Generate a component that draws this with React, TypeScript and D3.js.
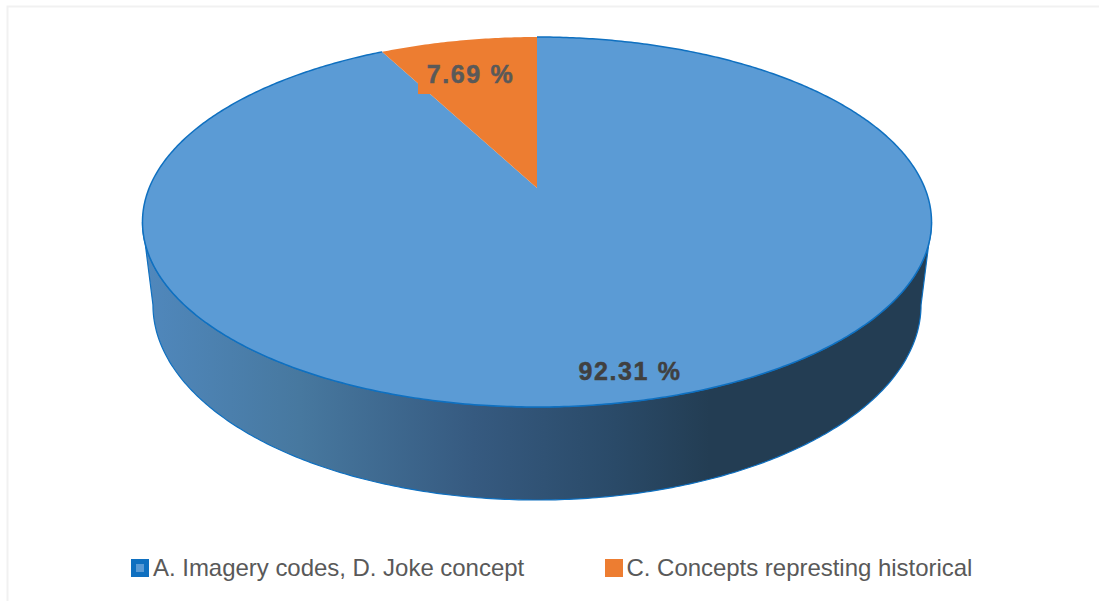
import React from "react";
import * as d3 from "d3";

const categories = ["A. Imagery codes, D. Joke concept", "C. Concepts represting historical"];
const shares = [92.31, 7.69];
const shareLabels = ["92.31 %", "7.69 %"];
const sliceColors = ["#5b9bd5", "#ed7d31"];
const wallStops: [number, string][] = [
  [0, "#5088bd"],
  [0.2, "#47789f"],
  [0.42, "#365a80"],
  [0.6, "#2a4a68"],
  [0.72, "#233d53"],
  [1, "#233d53"],
];

const width = 1099;
const height = 601;
const outline = "#0f70c0";

// A tilted disc in perspective: far side shrinks, near side grows.
const tilt = 68 / 370;
const cx = 537;
const topPlane = { y0: 188, a: 387.8, b: 178.75 };
const basePlane = { y0: 269.2, a: 377.5, b: 188.4 };

type Plane = typeof topPlane;

function project(p: Plane, angle: number): [number, number] {
  const u = Math.sin(angle);
  const v = Math.cos(angle);
  const w = 1 + tilt * v;
  return [cx + (p.a * u) / w, p.y0 - (p.b * v) / w];
}

function arcPoints(p: Plane, from: number, to: number): [number, number][] {
  const n = Math.max(2, Math.ceil(Math.abs(to - from) / 0.01));
  return d3.range(n + 1).map((i) => project(p, from + ((to - from) * i) / n));
}

const line = d3.line();
const xExtreme = Math.asin(tilt); // angle past the quarter where the disc is widest

const slices = d3.pie<number>().sort(null)(shares);

const wallPath =
  line([
    ...arcPoints(topPlane, Math.PI / 2 + xExtreme, (3 * Math.PI) / 2 - xExtreme),
    ...arcPoints(basePlane, (3 * Math.PI) / 2 - xExtreme, Math.PI / 2 + xExtreme),
  ]) + "Z";

const labelAt: [number, number][] = [
  [630, 380],
  [470.5, 83],
];
const labelColors = ["#404040", "#595959"];
const legendX = [131, 605];

export default function App() {
  return (
    <svg
      width={width}
      height={height}
      style={{ position: "absolute", left: 0, top: 0, background: "#fff" }}
      fontFamily="'Liberation Sans', Arial, sans-serif"
    >
      <defs>
        <linearGradient id="wall" gradientUnits="userSpaceOnUse" x1={142} x2={931} y1={0} y2={0}>
          {wallStops.map(([o, c]) => (
            <stop key={o} offset={o} stopColor={c} />
          ))}
        </linearGradient>
      </defs>

      <path d="M7.5 601V6.5H1099" fill="none" stroke="#f1f1f1" strokeWidth={2} />

      <path d={wallPath} fill="url(#wall)" stroke={outline} strokeWidth={1.2} />

      {slices.map((s, i) => (
        <path
          key={i}
          d={line([[cx, topPlane.y0], ...arcPoints(topPlane, s.startAngle, s.endAngle)]) + "Z"}
          fill={sliceColors[i]}
        />
      ))}
      <path
        d={line(arcPoints(topPlane, 0, slices[0].endAngle)) as string}
        fill="none"
        stroke={outline}
        strokeWidth={1.5}
      />

      <rect x={418} y={56} width={104} height={38} fill={sliceColors[1]} />

      {shareLabels.map((t, i) => (
        <text
          key={t}
          x={labelAt[i][0]}
          y={labelAt[i][1]}
          textAnchor="middle"
          fontSize={25}
          fontWeight={700}
          fill={labelColors[i]}
          stroke={labelColors[i]}
          strokeWidth={0.5}
          letterSpacing={1.6}
        >
          {t}
        </text>
      ))}

      {categories.map((c, i) => (
        <g key={c} transform={`translate(${legendX[i]},559)`}>
          <rect width={18} height={18} fill={i === 0 ? "#0f70c0" : sliceColors[1]} />
          {i === 0 && <rect x={5} y={5} width={8} height={8} fill={sliceColors[0]} />}
          <text x={i === 0 ? 22 : 21.5} y={17} fontSize={24} fill="#595959" letterSpacing={-0.03}>
            {c}
          </text>
        </g>
      ))}
    </svg>
  );
}
